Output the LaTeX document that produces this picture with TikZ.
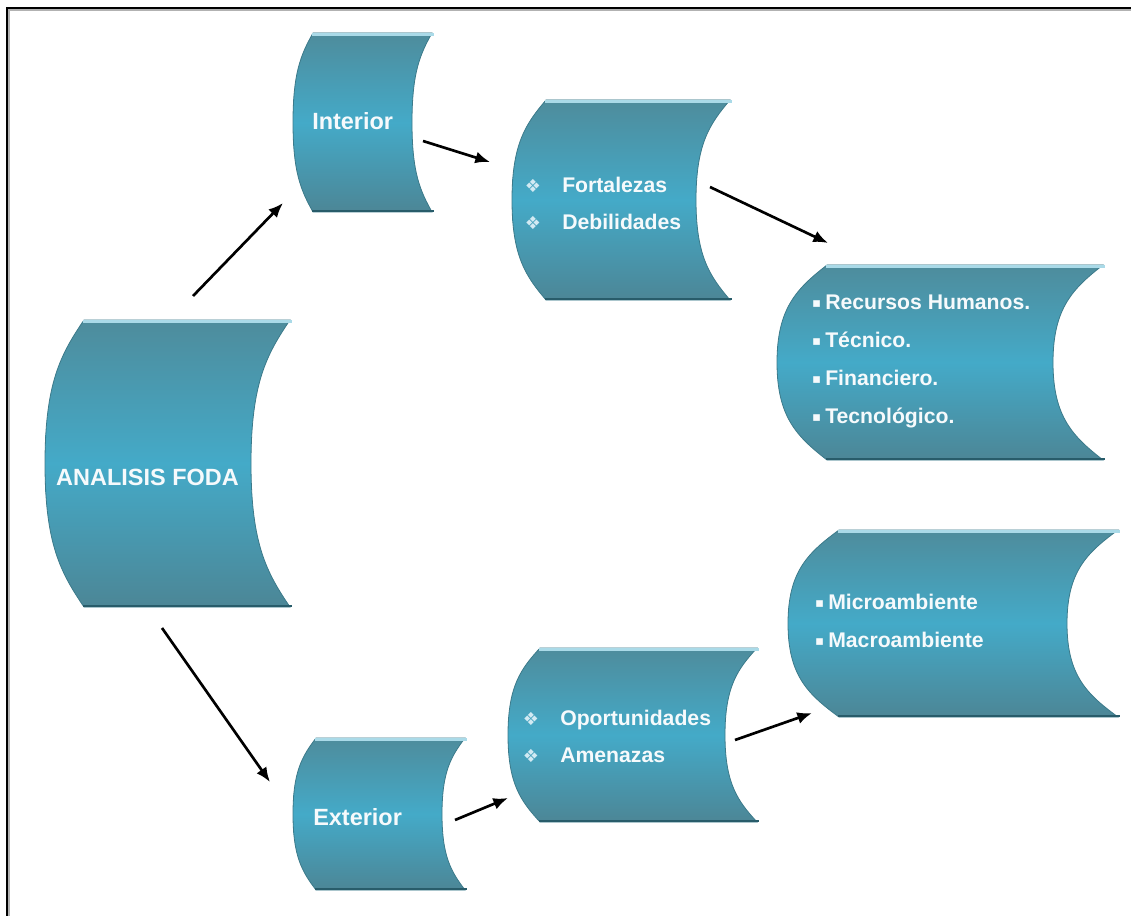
\documentclass[tikz,border=0pt]{standalone}
\usepackage{fontspec}
\setmainfont{Liberation Sans}
\newfontfamily\symfont{DejaVu Sans}
\usetikzlibrary{arrows.meta}
\definecolor{tealtop}{RGB}{78,140,156}
\definecolor{tealmid}{RGB}{68,170,200}
\definecolor{tealbot}{RGB}{76,134,150}
\definecolor{tealedge}{RGB}{60,122,138}
\definecolor{teallight}{RGB}{170,218,232}
\definecolor{tealdark}{RGB}{40,92,106}
\definecolor{txtwhite}{RGB}{246,250,252}
\definecolor{bulletc}{RGB}{210,234,243}
\tikzset{
  bentfill/.style={top color=tealtop, bottom color=tealbot, middle color=tealmid, draw=tealedge, line width=0.6pt},
  hilite/.style={draw=teallight, line width=1.6pt},
  lowline/.style={draw=tealdark, line width=1.6pt},
  conn/.style={-{Latex[length=11pt,width=9pt]}, line width=2pt, black},
  title/.style={text=txtwhite, font=\fontsize{17.6}{20}\selectfont\bfseries, inner sep=0pt},
  item/.style={text=txtwhite, font=\fontsize{15.9}{19}\selectfont\bfseries, inner sep=0pt},
  frame/.style={line width=1.5pt, black}
}
\newcommand\dia{\llap{{\color{bulletc}\symfont\fontsize{13.5}{13.5}\selectfont ❖}\hspace{16pt}}}
\newcommand\sqb{\llap{\raisebox{1.5pt}{\color{txtwhite}\symfont\fontsize{10}{10}\selectfont ▪}\hspace{3pt}}}
\newcommand\bentbox[5]{%
  \pgfmathsetmacro\bxL{#1}\pgfmathsetmacro\bxT{#2}\pgfmathsetmacro\bxR{#3}%
  \pgfmathsetmacro\bxB{#4}\pgfmathsetmacro\bxd{#5}\pgfmathsetmacro\bxh{#4-#2}%
  \pgfmathsetmacro\bxM{(#2+#4)/2}\pgfmathsetmacro\bxk{0.6*\bxd}%
  \pgfmathsetmacro\bxa{0.12*\bxh}\pgfmathsetmacro\bxv{0.28*\bxh}%
  \shadedraw[bentfill] ({\bxL+\bxd},{\bxT}) -- ({\bxR},{\bxT})
    .. controls ({\bxR-\bxk},{\bxT+\bxa}) and ({\bxR-\bxd},{\bxM-\bxv}) .. ({\bxR-\bxd},{\bxM})
    .. controls ({\bxR-\bxd},{\bxM+\bxv}) and ({\bxR-\bxk},{\bxB-\bxa}) .. ({\bxR},{\bxB})
    -- ({\bxL+\bxd},{\bxB})
    .. controls ({\bxL+\bxd-\bxk},{\bxB-\bxa}) and ({\bxL},{\bxM+\bxv}) .. ({\bxL},{\bxM})
    .. controls ({\bxL},{\bxM-\bxv}) and ({\bxL+\bxd-\bxk},{\bxT+\bxa}) .. cycle;
  \draw[hilite] ({\bxL+\bxd-1},{\bxT+1.5}) -- ({\bxR+2},{\bxT+1.5});
  \draw[lowline] ({\bxL+\bxd-1},{\bxB-1}) -- ({\bxR+2},{\bxB-1});
}
\begin{document}
\begin{tikzpicture}[x=0.75pt,y=-0.75pt]
\useasboundingbox (0,0) rectangle (1131,916);
% frame
\draw[gray!60, line width=1pt] (9,916) -- (9,10) -- (1131,10);
\draw[frame] (7,916) -- (7,8) -- (1131,8);

% shapes
\bentbox{45}{320}{290}{607}{39}
\bentbox{293}{33}{432}{212}{20}
\bentbox{512}{100}{730}{300}{34}
\bentbox{777}{265}{1103}{460}{50}
\bentbox{788}{530}{1118}{717}{51}
\bentbox{508}{648}{757}{822}{32}
\bentbox{293}{738}{465}{890}{23}

% texts
\node[title, anchor=base] (foda) at (147.5,485) {ANALISIS FODA};
\node[title, anchor=base west] (interior) at (312,130) {Interior};
\node[title, anchor=base west] (exterior) at (313,825) {Exterior};

\node[item, anchor=base west] (fort) at (562,193) {\dia Fortalezas};
\node[item, anchor=base west] (debi) at (562,230) {\dia Debilidades};

\node[item, anchor=base west] (rh) at (825,309) {\sqb Recursos Humanos.};
\node[item, anchor=base west] (tec) at (825,347) {\sqb Técnico.};
\node[item, anchor=base west] (fin) at (825,385) {\sqb Financiero.};
\node[item, anchor=base west] (tgl) at (825,423) {\sqb Tecnológico.};

\node[item, anchor=base west] (micro) at (828,609) {\sqb Microambiente};
\node[item, anchor=base west] (macro) at (828,647) {\sqb Macroambiente};

\node[item, anchor=base west] (opor) at (560,725) {\dia Oportunidades};
\node[item, anchor=base west] (amen) at (560,762) {\dia Amenazas};

% arrow end points
\coordinate (a1s) at (193,296); \coordinate (a1e) at (283,203);
\coordinate (a2s) at (162,628); \coordinate (a2e) at (270,782);
\coordinate (a3s) at (423,141); \coordinate (a3e) at (490,162);
\coordinate (a4s) at (710,187); \coordinate (a4e) at (828,243);
\coordinate (a5s) at (455,820); \coordinate (a5e) at (508,798);
\coordinate (a6s) at (735,740); \coordinate (a6e) at (812,713);

\draw[conn] (a1s) -- (a1e);
\draw[conn] (a2s) -- (a2e);
\draw[conn] (a3s) -- (a3e);
\draw[conn] (a4s) -- (a4e);
\draw[conn] (a5s) -- (a5e);
\draw[conn] (a6s) -- (a6e);
\end{tikzpicture}
\end{document}
